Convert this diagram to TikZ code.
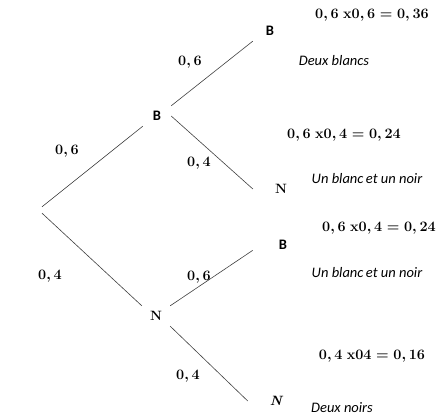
\documentclass[tikz,border=0pt]{standalone}
\usepackage{fontspec}
\usepackage{amsmath}
\usepackage{tikz}
\newfontfamily\calibrifont{Carlito}

\begin{document}
\begin{tikzpicture}[
  x=1pt, y=-1pt,
  vertex/.style={inner sep=0pt, minimum width=28pt, minimum height=20pt},
  leaf/.style={inner ysep=0pt, inner xsep=22pt, minimum height=20pt},
  sansB/.style={font=\calibrifont\fontsize{14.5}{17}\selectfont\bfseries},
  serifN/.style={font=\fontsize{13.5}{16}\selectfont\bfseries},
  prob/.style={font=\fontsize{14}{16}\selectfont\boldmath},
  product/.style={font=\fontsize{13.5}{16}\selectfont\boldmath},
  comment/.style={font=\calibrifont\fontsize{14.5}{17}\selectfont\itshape},
  branch/.style={line width=0.6pt, draw=black!75}
]
\useasboundingbox (0,0) rectangle (440,417);

% tree
\node[inner sep=0pt, minimum size=6pt] (root) at (42,210) {};
\node[vertex, sansB]  (b1) at (157,116) {B};
\node[vertex, serifN] (n1) at (156,316) {N};
\node[leaf, sansB, inner xsep=13pt] (bb) at (270,31)  {B};
\node[leaf, serifN]                 (bn) at (281,189) {N};
\node[leaf, sansB, inner xsep=26pt] (nb) at (283,245) {B};
\node[leaf, serifN, font=\fontsize{13.5}{16}\selectfont\bfseries\itshape] (nn) at (276,401) {N};

\draw[branch] (root.north)   -- (b1.south west);
\draw[branch] (root.south)   -- (n1.north west);
\draw[branch] (b1.north east) -- (bb.south west);
\draw[branch] (b1.east)      -- (bn.west);
\draw[branch] (n1.north east) -- (nb.190);
\draw[branch] (n1.south east) -- (nn.west);

% probabilities
\node[prob] (p1) at (67,151)  {$\mathbf{0,6}$};
\node[prob] (p2) at (50,276)  {$\mathbf{0,4}$};
\node[prob] (p3) at (190,62)  {$\mathbf{0,6}$};
\node[prob] (p4) at (199,163) {$\mathbf{0,4}$};
\node[prob] (p5) at (199,277) {$\mathbf{0,6}$};
\node[prob] (p6) at (188,376) {$\mathbf{0,4}$};

% results
\node[product] (r1) at (372,15)  {$\mathbf{0,6\ x0,6=0,36}$};
\node[comment] (c1) at (334,61)  {Deux blancs};
\node[product] (r2) at (344,135) {$\mathbf{0,6\ x0,4=0,24}$};
\node[comment] (c2) at (367,179) {Un blanc\,et un noir};
\node[product] (r3) at (379,228) {$\mathbf{0,6\ x0,4=0,24}$};
\node[comment] (c3) at (367,273) {Un blanc\,et un noir};
\node[product] (r4) at (372,356) {$\mathbf{0,4\ x04=0,16}$};
\node[comment] (c4) at (342,408) {Deux noirs};

\end{tikzpicture}
\end{document}
